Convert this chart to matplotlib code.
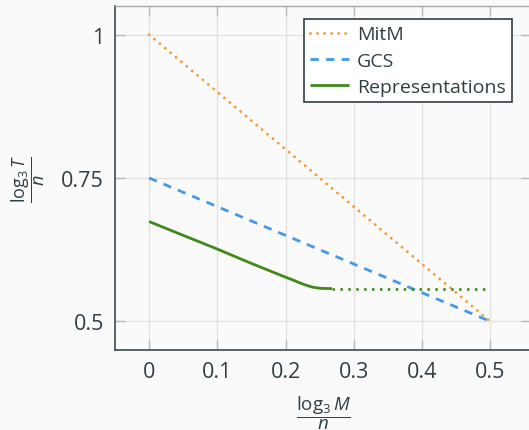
import matplotlib
matplotlib.use("Agg")
import matplotlib.pyplot as plt
import numpy as np

# Data
mitm_x = [0.0, 0.5]
mitm_y = [1.0, 0.5]
gcs_x = [0.0, 0.5]
gcs_y = [0.75, 0.5]
rep_x = [0.0, 0.05, 0.10, 0.15, 0.20, 0.21, 0.22, 0.23, 0.24, 0.25, 0.268]
rep_y = [0.674, 0.650, 0.626, 0.601, 0.577, 0.5725, 0.5675, 0.5630, 0.5595, 0.5577, 0.557]
rep_flat_x = [0.268, 0.5]
rep_flat_y = [0.557, 0.557]

xticks = [0, 0.1, 0.2, 0.3, 0.4, 0.5]
xticklabels = ["0", "0.1", "0.2", "0.3", "0.4", "0.5"]
yticks = [0.5, 0.75, 1.0]
yticklabels = ["0.5", "0.75", "1"]

plt.rcParams['font.family'] = ['Open Sans', 'DejaVu Sans']
plt.rcParams['mathtext.fontset'] = 'custom'
plt.rcParams['mathtext.rm'] = 'Open Sans'
plt.rcParams['mathtext.it'] = 'Open Sans:italic'

bg = '#fafafa'
txt = '#2f3f46'
orange = '#f59a37'
blue = '#4499e9'
green = '#3e8a1b'

fig = plt.figure(figsize=(5.29, 4.31), dpi=100, facecolor=bg)
ax = fig.add_axes([0.2174, 0.1856, 1.004 - 0.2174, 0.9838 - 0.1856])
ax.set_facecolor(bg)

ax.plot(mitm_x, mitm_y, color=orange, lw=2.1, linestyle=(0, (0.01, 2.4)), dash_capstyle='round', label='MitM')
ax.plot(gcs_x, gcs_y, color=blue, lw=2, linestyle=(0, (3.0, 2.6)), label='GCS')
ax.plot(rep_x, rep_y, color=green, lw=2, label='Representations', solid_capstyle='butt')
ax.plot(rep_flat_x, rep_flat_y, color=green, lw=2, linestyle=(0, (0.85, 2.0)))

ax.set_xlim(-0.05, 0.56)
ax.set_ylim(0.45, 1.05)
ax.set_xticks(xticks)
ax.set_xticklabels(xticklabels)
ax.set_yticks(yticks)
ax.set_yticklabels(yticklabels)
ax.grid(True, color='#e2e2e2', lw=1)
ax.set_axisbelow(True)
ax.tick_params(axis='both', direction='in', length=7, width=1, color='#bbbbbb',
               labelsize=15.5, labelcolor=txt, top=True, right=True, pad=8)
for side in ['left', 'bottom']:
    ax.spines[side].set_color('#3a4a52')
    ax.spines[side].set_linewidth(1.2)
for side in ['top', 'right']:
    ax.spines[side].set_color('#a8a8a8')
    ax.spines[side].set_linewidth(1.0)

ax.set_xlabel(r'$\dfrac{\log_3 M}{n}$', fontsize=13.5, color=txt, labelpad=8)
ax.set_ylabel(r'$\dfrac{\log_3 T}{n}$', fontsize=13, color=txt, labelpad=10)

leg = ax.legend(loc='upper right', bbox_to_anchor=(0.954, 0.962), fontsize=14,
                frameon=True, fancybox=False, edgecolor='#2f3f46', framealpha=1,
                handlelength=2.0, handletextpad=0.4, borderpad=0.33, labelspacing=0.42,
                borderaxespad=0)
leg.get_frame().set_linewidth(1.2)
for t in leg.get_texts():
    t.set_color(txt)

fig.savefig('out.png', dpi=100, facecolor=bg)
